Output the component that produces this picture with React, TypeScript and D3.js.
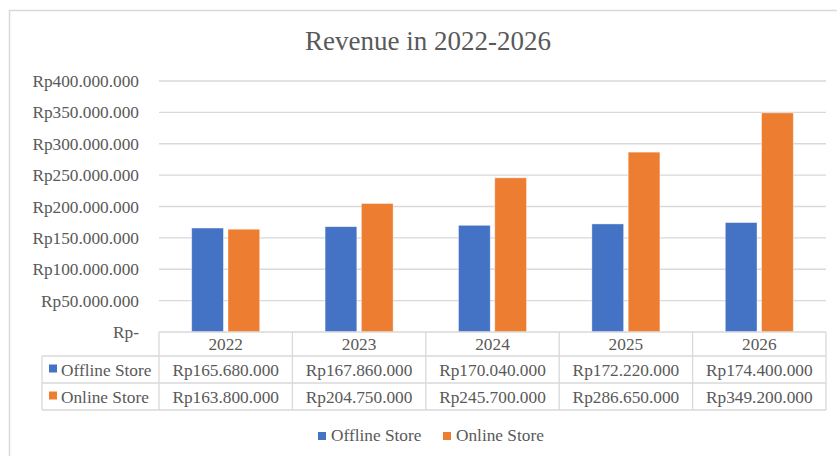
import React from "react";
import * as d3 from "d3";

const categories = ["2022", "2023", "2024", "2025", "2026"];
const seriesNames = ["Offline Store", "Online Store"];
const offlineValues = [165680000, 167860000, 170040000, 172220000, 174400000];
const onlineValues = [163800000, 204750000, 245700000, 286650000, 349200000];
const yTicks = [0, 50000000, 100000000, 150000000, 200000000, 250000000, 300000000, 350000000, 400000000];
const colors = ["#4472C4", "#ED7D31"];
const title = "Revenue in 2022-2026";

const W = 837;
const H = 456;
const FONT = "Liberation Serif, Times New Roman, serif";
const TEXT = "#595959";
const GRID = "#D9D9D9";
const fs = { fontFamily: FONT };

function fmt(v: number): string {
  if (v === 0) return "Rp-";
  const s = Math.round(v).toString().replace(/\B(?=(\d{3})+(?!\d))/g, ".");
  return "Rp" + s;
}

export default function App() {
  const plotL = 159;
  const plotR = 826;
  const y0 = 332;
  const yTop = 81;
  const x = d3.scaleBand<string>().domain(categories).range([plotL, plotR]).paddingInner(0).paddingOuter(0);
  const y = d3.scaleLinear().domain([0, 400000000]).range([y0, yTop]);
  const bw = x.bandwidth();
  const groupW = bw * 0.51;
  const inner = d3.scaleBand<string>().domain(seriesNames).range([0, groupW]).paddingInner(0.125);
  const seriesValues = [offlineValues, onlineValues];

  const rowH = [y0, 356, 383, 410];
  const legendColL = 42;

  return (
    <svg width={W} height={H} style={{ position: "absolute", left: 0, top: 0, background: "#fff", fontFamily: FONT }}>
      <rect x={0} y={0} width={W} height={H} fill="#fff" />
      <rect x={9.5} y={10.5} width={W + 10} height={H + 10} fill="none" stroke={GRID} strokeWidth={1.5} />
      <text x={428} y={50} textAnchor="middle" fontSize={27} fill={TEXT} style={fs}>{title}</text>

      {yTicks.map((t) => (
        <g key={t}>
          {t !== 0 && <line x1={plotL} x2={plotR} y1={y(t)} y2={y(t)} stroke={GRID} strokeWidth={1.3} />}
          <text x={139} y={y(t) + 6} textAnchor="end" fontSize={17.3} fill={TEXT} style={fs}>{fmt(t)}</text>
        </g>
      ))}

      {categories.map((c, i) => (
        <g key={c}>
          {seriesNames.map((s, j) => {
            const v = seriesValues[j][i];
            const bx = (x(c) as number) + (bw - groupW) / 2 + (inner(s) as number);
            return (
              <rect key={s} x={bx} y={y(v)} width={inner.bandwidth()} height={y0 - y(v)} fill={colors[j]} stroke="#ffffff" strokeOpacity={0.5} strokeWidth={0.8} />
            );
          })}
        </g>
      ))}

      {/* data table */}
      <g stroke={GRID} strokeWidth={1.3} fill="none">
        <line x1={plotL} x2={plotR} y1={rowH[0]} y2={rowH[0]} />
        {[1, 2, 3].map((r) => (
          <line key={r} x1={legendColL} x2={plotR} y1={rowH[r]} y2={rowH[r]} />
        ))}
        <line x1={legendColL} x2={legendColL} y1={rowH[1]} y2={rowH[3]} />
        {categories.map((c) => (
          <line key={c} x1={x(c) as number} x2={x(c) as number} y1={rowH[0]} y2={rowH[3]} />
        ))}
        <line x1={plotR} x2={plotR} y1={rowH[0]} y2={rowH[3]} />
      </g>
      {categories.map((c) => (
        <text key={c} x={(x(c) as number) + bw / 2} y={350} textAnchor="middle" fontSize={17.3} fill={TEXT} style={fs}>{c}</text>
      ))}
      {seriesNames.map((s, j) => (
        <g key={s}>
          <rect x={49} y={(rowH[j + 1] + rowH[j + 2]) / 2 - 5} width={8} height={8} fill={colors[j]} />
          <text x={61} y={(rowH[j + 1] + rowH[j + 2]) / 2 + 6} fontSize={17.3} fill={TEXT} style={fs}>{s}</text>
          {categories.map((c, i) => (
            <text key={c} x={(x(c) as number) + bw / 2} y={(rowH[j + 1] + rowH[j + 2]) / 2 + 6} textAnchor="middle" fontSize={17.3} fill={TEXT} style={fs}>
              {fmt(seriesValues[j][i])}
            </text>
          ))}
        </g>
      ))}

      {/* bottom legend */}
      {seriesNames.map((s, j) => {
        const lx = j === 0 ? 318 : 443;
        return (
          <g key={s}>
            <rect x={lx} y={432} width={8} height={8} fill={colors[j]} />
            <text x={lx + 13} y={441} fontSize={17.3} fill={TEXT} style={fs}>{s}</text>
          </g>
        );
      })}
    </svg>
  );
}
